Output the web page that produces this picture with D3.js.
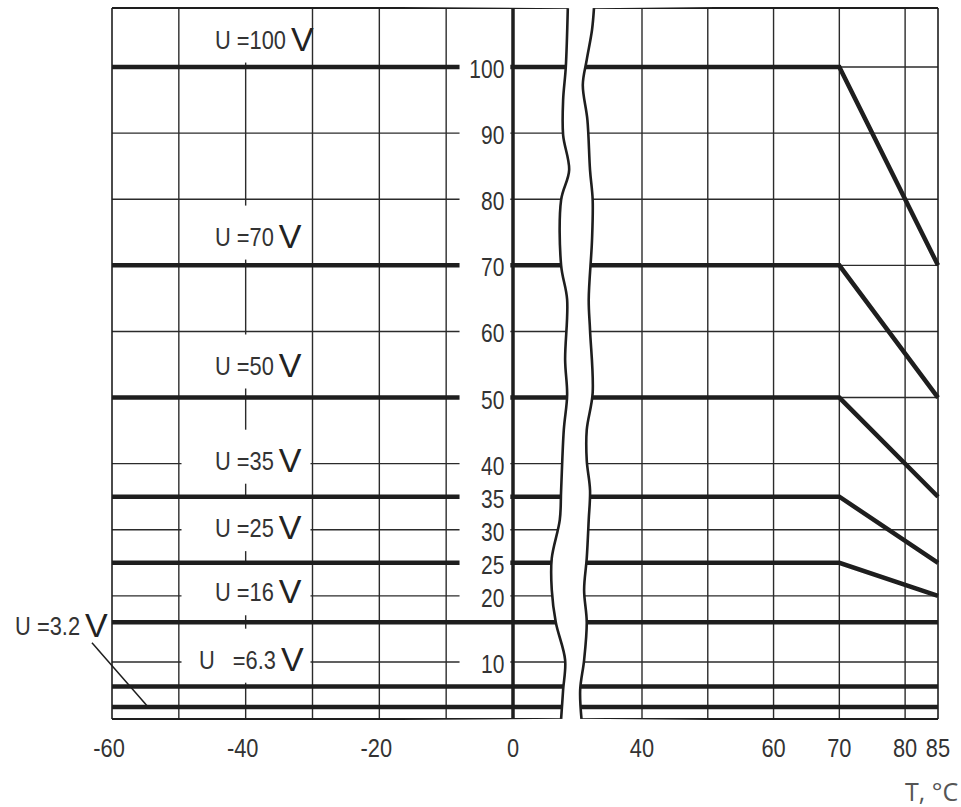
<!DOCTYPE html>
<html lang="ru">
<head>
  <meta charset="UTF-8">
  <title>d3</title>
  <script src="https://d3js.org/d3.v7.min.js"></script>
  <style>
    body { margin: 0; background: #fff; }
    text { white-space: pre; }
  </style>
</head>
<body>
  <div class="canvas"></div>
  <script>
    // rated voltages and the derated voltage at 85 °C
    const ratings = [100, 70, 50, 35, 25, 16, 6.3, 3.2];
    const at85 = [70, 50, 35, 25, 20, 16, 6.3, 3.2];
    const kneeT = 70;
    const labelNames = ['U =100', 'U =70', 'U =50', 'U =35', 'U =25', 'U =16', 'U   =6.3', 'U =3.2'];

    const yTicks = [100, 90, 80, 70, 60, 50, 40, 35, 30, 25, 20, 10];
    const xTicks = [-60, -40, -20, 0, 40, 60, 70, 80, 85];
    const gridH = [100, 90, 80, 70, 60, 50, 40, 30, 20, 10];
    const gridVLeft = [-50, -40, -30, -20, -10];
    const gridVRight = [40, 50, 60, 70, 80];

    // torn edges of the axis break, [T, U]
    const breakLeft = [[8.2, 108.9], [7.9, 100], [7.5, 95], [7.5, 89.7], [8.4, 84.4], [7.2, 79.9], [7.2, 70],
      [8.1, 64.8], [7.8, 55.7], [8.1, 50.4], [7.6, 45.1], [7.2, 36], [7.0, 31.5], [5.8, 25.7], [5.8, 20.9],
      [6.4, 16], [7.8, 10.3], [7.5, 5.8], [7.2, 1.4]];
    const breakRight = [[32.7, 108.9], [32.4, 105.6], [31.6, 101.1], [31.0, 97.3], [31.7, 92], [32.1, 84.4],
      [32.5, 79.9], [32.4, 73.8], [31.9, 64.8], [32.1, 60.2], [32.5, 50.7], [31.6, 45.1], [31.6, 40.5],
      [32.1, 36], [31.9, 31.5], [31.6, 25.7], [31.2, 20.9], [31.6, 16], [31.2, 10.3], [30.6, 5.8], [30.8, 1.4]];

    // layout
    const width = 961, height = 807;
    const plotTop = 8, plotBottom = 719;
    const labelT = [-44.6, -44.6, -44.6, -44.6, -44.6, -44.6, -47.0, -74.5];
    const labelU = [104.3, 74.5, 55, 40.6, 30.4, 20.7, 10.5, 15.6];
    const ink = '#1e1e1e';
    const sans = '"Liberation Sans", Arial, sans-serif';
    const squeeze = 0.84; // the scan uses a narrow typeface

    const xL = d3.scaleLinear().domain([-60, 0]).range([112, 513]);
    const xR = d3.scaleLinear().domain([40, 85]).range([642, 938]);
    const y = d3.scaleLinear().domain([10, 100]).range([662, 67]);

    const svg = d3.select('.canvas').append('svg')
      .attr('width', width)
      .attr('height', height);

    const edge = (scale) => d3.line()
      .x(d => scale(d[0]))
      .y(d => Math.min(plotBottom, Math.max(plotTop, y(d[1]))))
      .curve(d3.curveCatmullRom);

    const leftEdge = edge(xL)(breakLeft);
    const rightEdge = edge(xR)(breakRight);

    // clip areas for both halves
    const defs = svg.append('defs');
    defs.append('clipPath').attr('id', 'clipL')
      .append('path')
      .attr('d', leftEdge + `L${xL(-60) - 3},${plotBottom + 3}L${xL(-60) - 3},${plotTop - 3}Z`);
    defs.append('clipPath').attr('id', 'clipR')
      .append('path')
      .attr('d', rightEdge + `L${xR(85) + 3},${plotBottom + 3}L${xR(85) + 3},${plotTop - 3}Z`);

    const gl = svg.append('g').attr('clip-path', 'url(#clipL)');
    const gr = svg.append('g').attr('clip-path', 'url(#clipR)');

    // thin grid
    gl.selectAll('line.h').data(gridH).enter().append('line')
      .attr('x1', xL(-60)).attr('x2', xL(12))
      .attr('y1', d => y(d)).attr('y2', d => y(d))
      .attr('stroke', '#2b2b2b').attr('stroke-width', 1.4);
    gr.selectAll('line.h').data(gridH).enter().append('line')
      .attr('x1', xR(28)).attr('x2', xR(85))
      .attr('y1', d => y(d)).attr('y2', d => y(d))
      .attr('stroke', '#2b2b2b').attr('stroke-width', 1.4);
    gl.selectAll('line.v').data(gridVLeft).enter().append('line')
      .attr('x1', d => xL(d)).attr('x2', d => xL(d))
      .attr('y1', plotTop).attr('y2', plotBottom)
      .attr('stroke', '#2b2b2b').attr('stroke-width', 1.4);
    gr.selectAll('line.v').data(gridVRight).enter().append('line')
      .attr('x1', d => xR(d)).attr('x2', d => xR(d))
      .attr('y1', plotTop).attr('y2', plotBottom)
      .attr('stroke', '#2b2b2b').attr('stroke-width', 1.4);

    // white boxes behind the curve labels
    const inside = labelNames.slice(0, 7);
    gl.selectAll('rect.lab').data(inside).enter().append('rect')
      .attr('x', xL(-49.6)).attr('width', xL(-30.3) - xL(-49.6))
      .attr('y', (d, i) => y(labelU[i]) - 30)
      .attr('height', 54)
      .attr('fill', '#fff');

    // frame
    gl.append('line').attr('x1', xL(-60)).attr('x2', xL(12)).attr('y1', plotTop).attr('y2', plotTop)
      .attr('stroke', ink).attr('stroke-width', 2);
    gr.append('line').attr('x1', xR(28)).attr('x2', xR(85)).attr('y1', plotTop).attr('y2', plotTop)
      .attr('stroke', ink).attr('stroke-width', 2);
    gl.append('line').attr('x1', xL(-60)).attr('x2', xL(12)).attr('y1', plotBottom).attr('y2', plotBottom)
      .attr('stroke', ink).attr('stroke-width', 2);
    gr.append('line').attr('x1', xR(28)).attr('x2', xR(85)).attr('y1', plotBottom).attr('y2', plotBottom)
      .attr('stroke', ink).attr('stroke-width', 2);
    gl.append('line').attr('x1', xL(-60)).attr('x2', xL(-60)).attr('y1', plotTop).attr('y2', plotBottom)
      .attr('stroke', ink).attr('stroke-width', 1.6);
    gr.append('line').attr('x1', xR(85)).attr('x2', xR(85)).attr('y1', plotTop).attr('y2', plotBottom)
      .attr('stroke', ink).attr('stroke-width', 1.6);

    // curves: flat up to 70 °C, then linear to the value at 85 °C
    const series = ratings.map((u, i) => ({ u: u, end: at85[i] }));
    gl.selectAll('line.curve').data(series).enter().append('line')
      .attr('x1', xL(-60)).attr('x2', xL(12))
      .attr('y1', d => y(d.u)).attr('y2', d => y(d.u))
      .attr('stroke', ink).attr('stroke-width', 4.5);
    const rightLine = d3.line().x(d => xR(d[0])).y(d => y(d[1]));
    gr.selectAll('path.curve').data(series).enter().append('path')
      .attr('d', d => rightLine([[28, d.u], [kneeT, d.u], [85, d.end]]))
      .attr('fill', 'none')
      .attr('stroke', ink).attr('stroke-width', 4.5)
      .attr('stroke-linejoin', 'miter');

    // y tick labels on the 0 °C axis
    svg.selectAll('rect.yt').data(yTicks).enter().append('rect')
      .attr('x', xL(-8)).attr('width', xL(-0.4) - xL(-8))
      .attr('y', d => y(d) - 12).attr('height', 24)
      .attr('fill', '#fff');
    svg.append('line').attr('x1', xL(0)).attr('x2', xL(0)).attr('y1', plotTop).attr('y2', plotBottom)
      .attr('stroke', ink).attr('stroke-width', 3.5);
    svg.selectAll('text.yt').data(yTicks).enter().append('text')
      .attr('transform', d => `translate(${xL(-1.3)},${y(d) + 11}) scale(${squeeze},1)`)
      .attr('text-anchor', 'end')
      .attr('font-family', sans).attr('font-size', 25)
      .attr('fill', '#333')
      .text(d => d);

    // torn edges
    svg.append('path').attr('d', leftEdge).attr('fill', 'none')
      .attr('stroke', ink).attr('stroke-width', 2.6);
    svg.append('path').attr('d', rightEdge).attr('fill', 'none')
      .attr('stroke', ink).attr('stroke-width', 2.6);

    // x tick labels
    svg.selectAll('text.xt').data(xTicks).enter().append('text')
      .attr('transform', d => `translate(${d <= 0 ? xL(d) - (d < 0 ? 3 : 0) : xR(d)},757) scale(${squeeze},1)`)
      .attr('text-anchor', 'middle')
      .attr('font-family', sans).attr('font-size', 26)
      .attr('fill', '#333')
      .text(d => d);
    svg.append('text')
      .attr('x', 905).attr('y', 801)
      .attr('font-family', '"Open Sans", sans-serif').attr('font-size', 25)
      .attr('fill', '#555')
      .text('T, °C');

    // curve labels
    labelNames.forEach((name, i) => {
      const x0 = xL(labelT[i]);
      const t = svg.append('text')
        .attr('transform', `translate(${x0},${y(labelU[i]) + 10}) scale(${squeeze},1)`)
        .attr('font-family', sans).attr('font-size', 26)
        .attr('fill', '#333')
        .text(name);
      const w = t.node().getComputedTextLength() * squeeze;
      svg.append('text')
        .attr('x', x0 + w + 5)
        .attr('y', y(labelU[i]) + 12)
        .attr('font-family', sans).attr('font-size', 34)
        .attr('fill', '#222')
        .text('V');
    });

    // leader from the 3.2 V label to its line
    svg.append('line')
      .attr('x1', xL(-63)).attr('y1', y(12.9))
      .attr('x2', xL(-54.6)).attr('y2', y(3.2))
      .attr('stroke', ink).attr('stroke-width', 1.5);
  </script>
</body>
</html>
